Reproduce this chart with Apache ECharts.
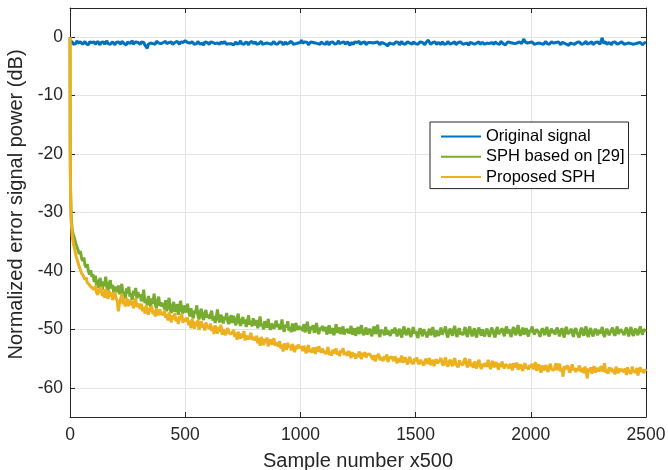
<!DOCTYPE html>
<html>
<head>
<meta charset="utf-8">
<script src="https://cdn.jsdelivr.net/npm/echarts@6/dist/echarts.min.js"></script>
<style>
    html, body { margin: 0; padding: 0; background: #fff; }
    #chart { width: 668px; height: 470px; }
</style>
</head>
<body>
<div id="chart"></div>
<script>
const step = 5;
const headX = [0, 1, 2, 3];
const yTicks = [-60, -50, -40, -30, -20, -10, 0];
const xTicks = [0, 500, 1000, 1500, 2000, 2500];
const seriesNames = ["Original signal", "SPH based on [29]", "Proposed SPH"];
const colors = ["#0072bd", "#77ac30", "#edb120"];

// Original signal, samples 0..2500
const original = [
    -0.7, -1.0, -0.8, -1.2, -0.9, -1.1, -0.6, -1.0, -1.3, -0.8, -1.0, -1.2, -0.9, -0.7, -1.1, -1.0, -1.3, -0.8, -1.0, -0.9,
    -1.1, -0.8, -1.2, -0.9, -0.7, -1.0, -1.3, -0.9, -1.1, -0.8, -1.2, -1.0, -0.6, -1.1, -0.9, -1.2, -1.0, -0.8, -1.1, -1.3,
    -0.9, -1.1, -0.8, -1.0, -1.2, -0.7, -1.0, -1.1, -0.9, -1.3, -0.8, -1.0, -1.1, -0.9, -0.6, -1.2, -1.0, -0.8, -1.1, -0.9,
    -1.0, -1.2, -0.8, -1.1, -0.9, -1.3, -1.1, -1.9, -1.2, -0.9, -1.0, -0.8, -1.1, -0.9, -1.2, -0.7, -0.5, -1.0, -0.9, -1.1,
    -1.2, -0.9, -1.0, -0.7, -1.1, -1.3, -0.9, -1.0, -0.8, -1.2, -1.0, -0.9, -1.1, -0.7, -1.0, -1.2, -0.8, -1.1, -0.9, -1.0,
    -0.6, -0.4, -0.9, -1.1, -1.0, -1.3, -0.8, -1.0, -1.2, -0.9, -1.1, -0.7, -1.0, -1.2, -0.9, -1.0, -1.4, -0.8, -1.1, -0.9,
    -1.0, -1.2, -0.8, -1.1, -0.9, -0.7, -1.1, -1.3, -1.0, -0.9, -1.2, -0.8, -1.0, -1.1, -0.7, -1.0, -1.2, -0.9, -1.1, -0.8,
    -1.1, -0.9, -1.3, -1.0, -0.8, -1.2, -0.9, -1.0, -0.6, -1.1, -0.9, -1.2, -1.0, -0.8, -1.1, -1.3, -0.9, -1.0, -0.7, -1.1,
    -1.0, -0.8, -1.2, -0.9, -1.1, -1.0, -0.7, -1.2, -0.9, -1.1, -1.4, -1.0, -0.8, -1.1, -0.9, -1.2, -1.0, -0.7, -1.1, -0.9,
    -1.2, -1.0, -0.8, -1.1, -0.9, -1.3, -1.0, -0.8, -1.2, -0.9, -1.0, -1.1, -0.7, -1.0, -1.2, -0.9, -1.1, -0.8, -1.0, -1.2,
    -0.9, -0.5, -1.0, -1.2, -0.8, -1.1, -0.9, -1.3, -1.0, -0.8, -1.1, -0.9, -1.2, -1.0, -0.7, -1.1, -0.9, -1.2, -0.8, -1.0,
    -1.1, -0.9, -1.2, -0.7, -1.0, -1.3, -0.9, -1.1, -0.8, -1.0, -1.2, -0.9, -1.0, -0.6, -1.1, -1.3, -0.9, -1.0, -0.8, -1.2,
    -1.0, -0.8, -1.1, -1.4, -0.9, -1.0, -1.2, -0.8, -1.1, -0.9, -1.0, -0.7, -1.2, -1.0, -0.9, -1.1, -0.8, -1.3, -1.0, -0.9,
    -1.1, -0.9, -0.6, -1.0, -1.2, -0.9, -1.1, -0.8, -1.0, -1.3, -0.9, -1.1, -1.0, -0.8, -1.2, -0.9, -1.5, -1.0, -0.8, -1.1,
    -0.9, -1.2, -1.0, -0.8, -1.1, -0.9, -1.3, -1.0, -0.7, -1.1, -0.9, -1.2, -1.0, -0.8, -1.1, -1.0, -0.9, -1.2, -0.8, -1.0,
    -1.1, -0.9, -1.2, -1.0, -0.8, -1.1, -0.9, -1.0, -1.3, -0.9, -1.1, -0.5, -0.8, -1.2, -1.0, -0.9, -1.1, -0.8, -1.2, -1.0,
    -0.9, -1.1, -1.3, -0.8, -1.0, -1.2, -0.9, -1.1, -0.7, -1.0, -1.2, -0.9, -1.0, -1.1, -0.8, -1.3, -1.0, -0.9, -1.1, -0.8,
    -1.0, -1.2, -0.9, -1.1, -0.8, -1.0, -1.4, -0.9, -1.1, -1.0, -0.7, -1.2, -0.9, -1.0, -1.1, -0.8, -1.2, -1.0, -0.9, -1.1,
    -1.2, -0.9, -1.0, -0.8, -1.1, -1.3, -0.9, -1.0, -1.2, -0.8, -1.0, -1.1, -0.9, -1.2, -0.7, -1.0, -1.1, -0.9, -1.3, -1.0,
    -0.8, -1.1, -0.9, -1.2, -1.0, -0.7, -1.1, -0.9, -1.0, -1.2, -0.8, -1.0, -1.1, -0.9, -0.3, -0.8, -1.1, -1.0, -1.2, -0.9,
    -1.1, -0.8, -1.0, -1.2, -0.9, -1.1, -1.3, -1.0, -0.8, -1.1, -0.9, -1.2, -1.0, -0.7, -1.1, -0.9, -1.2, -1.0, -0.8, -1.1,
    -1.0, -1.2, -0.9, -1.1, -0.8, -1.0, -1.3, -0.9, -1.1, -1.0, -0.8, -1.2, -0.9, -1.4, -1.0, -0.8, -1.1, -0.9, -1.2, -1.0,
    -0.9, -1.1, -0.8, -1.0, -1.2, -0.9, -1.1, -1.0, -0.7, -1.2, -0.9, -1.0, -1.1, -0.8, -1.3, -1.0, -0.9, -1.1, -0.8, -1.0,
    -1.2, -0.9, -0.1, -1.0, -1.1, -0.8, -1.2, -1.0, -0.9, -1.1, -1.3, -0.9, -1.0, -0.8, -1.1, -1.2, -0.9, -1.0, -1.1, -0.8,
    -1.0, -1.2, -0.9, -1.1, -1.3, -1.0, -0.8, -1.1, -0.9, -1.2, -1.0, -1.1, -0.8, -1.0, -1.2, -0.9, -1.1, -1.3, -1.0, -0.9,
    -1.0
];

// SPH based on [29], samples 0..3 then 5..2500
const sphHead = [0, -19, -24, -27];
const sph = [
    -30.5, -33.2, -33.0, -34.5, -35.3, -35.0, -36.4, -37.1, -36.6, -37.8, -38.3, -37.7, -39.0, -39.4, -38.8, -40.1, -40.6, -39.9, -41.0, -40.6,
    -41.9, -40.8, -42.4, -41.5, -42.9, -41.2, -42.0, -43.3, -41.8, -42.6, -41.0, -42.8, -43.5, -42.1, -41.6, -43.0, -42.4, -43.8, -42.7, -43.2,
    -43.6, -42.5, -44.0, -43.1, -42.2, -44.3, -43.5, -44.8, -43.0, -43.9, -42.7, -44.4, -43.8, -45.0, -43.4, -44.2, -42.9, -44.7, -43.6, -44.5,
    -44.0, -45.2, -44.6, -43.2, -45.5, -44.8, -45.9, -44.3, -45.1, -46.2, -44.7, -45.6, -43.9, -45.8, -46.3, -45.0, -44.4, -46.0, -45.4, -46.1,
    -45.5, -46.6, -45.0, -46.9, -45.8, -44.6, -46.5, -47.2, -46.0, -45.3, -47.0, -46.4, -45.7, -47.5, -46.2, -45.1, -46.8, -47.3, -45.9, -46.7,
    -47.1, -45.6, -46.9, -47.8, -46.4, -47.5, -48.1, -46.8, -47.3, -45.9, -47.6, -48.3, -47.0, -46.5, -47.9, -48.4, -47.2, -46.7, -48.0, -47.5,
    -48.2, -47.4, -46.8, -48.5, -47.7, -48.9, -47.9, -46.6, -48.3, -48.8, -47.5, -48.1, -49.0, -47.8, -48.4, -47.2, -48.7, -49.1, -48.0, -47.6,
    -48.9, -47.7, -48.5, -49.3, -48.2, -47.3, -48.8, -49.4, -48.5, -47.9, -49.0, -48.3, -49.6, -48.7, -47.6, -49.2, -48.6, -49.5, -48.1, -48.9,
    -49.3, -48.4, -49.8, -48.9, -47.8, -49.5, -49.0, -50.0, -48.6, -49.3, -49.7, -48.2, -49.4, -50.1, -49.0, -48.7, -49.9, -49.2, -48.5, -49.6,
    -49.1, -50.0, -49.5, -48.3, -49.8, -50.4, -49.2, -49.7, -48.6, -50.2, -49.6, -50.5, -49.0, -49.9, -50.3, -48.9, -49.7, -50.1, -49.4, -50.0,
    -49.6, -50.3, -49.1, -50.5, -49.8, -48.7, -50.2, -50.7, -49.5, -50.0, -49.3, -50.6, -49.9, -48.9, -50.4, -50.8, -49.7, -50.1, -49.4, -50.3,
    -50.5, -49.6, -50.9, -50.0, -49.3, -50.7, -50.2, -49.8, -51.0, -50.4, -49.1, -50.6, -50.1, -49.7, -50.8, -50.3, -49.5, -50.9, -50.0, -50.5,
    -49.9, -50.7, -50.2, -49.4, -50.9, -50.5, -49.8, -51.1, -50.3, -49.6, -50.8, -50.0, -49.3, -50.6, -51.0, -50.2, -49.7, -50.9, -50.4, -49.9,
    -50.6, -51.2, -50.0, -49.5, -50.8, -50.3, -49.2, -50.7, -51.3, -50.1, -49.8, -50.5, -51.0, -49.6, -50.9, -50.2, -49.9, -51.1, -50.4, -50.0,
    -50.7, -49.7, -50.3, -51.2, -50.5, -49.9, -50.8, -51.4, -50.1, -49.5, -50.6, -51.0, -50.2, -49.8, -50.9, -51.3, -50.4, -49.6, -50.7, -50.3,
    -50.9, -51.5, -50.3, -49.8, -50.6, -51.2, -50.0, -49.7, -50.8, -51.4, -50.5, -49.9, -51.0, -50.4, -49.6, -50.9, -51.3, -50.2, -50.7, -51.1,
    -50.4, -49.7, -50.9, -51.2, -50.1, -49.5, -50.8, -51.4, -50.3, -49.9, -50.6, -51.1, -50.0, -49.4, -50.7, -51.3, -50.2, -49.8, -50.9, -50.5,
    -51.0, -50.3, -49.6, -50.8, -51.3, -50.1, -49.5, -50.6, -51.2, -50.4, -49.8, -50.9, -51.4, -50.2, -49.7, -50.5, -51.1, -50.0, -50.7, -51.2,
    -50.3, -49.9, -50.6, -51.3, -50.5, -49.7, -50.2, -50.9, -51.4, -50.1, -49.6, -50.8, -51.0, -50.3, -49.8, -50.5, -51.2, -50.0, -49.5, -50.7,
    -50.0, -50.8, -51.3, -50.2, -49.6, -50.5, -51.0, -49.9, -49.3, -50.6, -51.1, -50.3, -49.7, -50.9, -50.4, -49.8, -50.7, -51.2, -50.1, -50.5,
    -49.5, -50.2, -50.9, -51.1, -50.0, -49.7, -50.6, -51.3, -50.4, -49.8, -50.3, -51.0, -50.1, -49.6, -50.8, -51.2, -50.3, -49.9, -50.6, -50.2,
    -50.9, -50.1, -49.7, -50.5, -51.2, -50.3, -49.8, -50.7, -51.4, -50.0, -49.6, -50.8, -51.1, -50.4, -49.9, -50.6, -51.3, -50.2, -49.8, -50.5,
    -50.8, -51.4, -50.3, -49.7, -50.6, -51.1, -50.0, -49.5, -50.9, -51.3, -50.2, -49.8, -50.7, -51.2, -50.4, -49.9, -50.5, -51.0, -50.1, -50.7,
    -50.3, -49.6, -50.8, -51.3, -50.5, -49.9, -50.2, -51.0, -51.2, -50.1, -49.7, -50.6, -51.1, -50.3, -49.5, -50.8, -50.9, -50.0, -49.8, -50.6,
    -51.0, -50.2, -49.7, -50.5, -51.2, -50.1, -49.6, -50.7, -51.1, -50.3, -49.9, -50.6, -51.0, -50.2, -49.5, -50.4, -50.9, -50.0, -49.7, -50.3
];

// Proposed SPH, samples 0..3 then 5..2500
const proposedHead = [0, -20, -25, -28];
const proposed = [
    -31.5, -34.2, -35.4, -36.2, -37.3, -37.9, -38.6, -39.3, -39.6, -40.4, -40.2, -41.0, -41.5, -41.1, -42.0, -41.7, -42.4, -42.1, -42.9, -42.6,
    -43.2, -42.5, -43.7, -44.1, -43.0, -43.8, -42.7, -44.3, -43.5, -44.6, -43.1, -44.0, -44.8, -43.4, -44.4, -43.7, -45.0, -44.2, -43.6, -44.7,
    -45.1, -46.9, -45.5, -44.8, -43.9, -45.7, -45.0, -46.1, -44.6, -45.4, -46.0, -44.9, -45.8, -45.2, -46.4, -45.5, -44.7, -46.2, -45.6, -46.0,
    -46.5, -45.6, -46.9, -46.2, -47.3, -45.9, -46.7, -47.5, -46.3, -47.0, -46.0, -47.4, -46.8, -47.8, -46.4, -47.1, -47.6, -46.6, -47.3, -47.0,
    -47.5, -46.8, -48.0, -47.4, -48.5, -47.1, -47.9, -48.8, -47.6, -48.3, -47.2, -48.6, -48.0, -49.1, -47.7, -48.4, -47.3, -48.9, -48.1, -48.6,
    -48.9, -48.0, -49.3, -48.5, -49.8, -48.2, -49.0, -49.9, -48.7, -49.4, -48.4, -50.1, -49.2, -48.6, -49.7, -49.1, -50.2, -48.8, -49.5, -49.6,
    -49.9, -49.0, -50.3, -49.5, -50.8, -49.3, -50.1, -50.7, -49.6, -50.4, -49.2, -50.9, -50.0, -49.7, -51.0, -50.2, -49.8, -50.6, -50.3, -50.8,
    -50.9, -50.1, -51.3, -50.6, -51.8, -50.4, -51.0, -51.6, -50.7, -51.4, -50.3, -51.9, -51.1, -50.8, -51.7, -51.2, -50.6, -51.8, -51.3, -51.5,
    -51.9, -51.1, -52.4, -51.5, -52.8, -51.3, -52.0, -52.7, -51.6, -52.3, -51.4, -52.9, -52.1, -51.7, -52.6, -52.2, -51.5, -52.8, -52.3, -52.5,
    -52.9, -52.0, -53.3, -52.6, -53.8, -52.4, -53.0, -53.5, -52.3, -53.1, -52.7, -53.6, -52.5, -53.2, -53.9, -52.8, -53.4, -52.6, -53.1, -53.3,
    -53.0, -53.7, -52.8, -53.5, -54.1, -53.2, -52.7, -53.9, -53.4, -54.0, -53.1, -53.6, -54.2, -53.0, -53.8, -52.9, -53.5, -54.0, -53.3, -53.7,
    -53.4, -54.2, -53.7, -53.0, -54.4, -53.8, -54.5, -53.5, -54.1, -53.9, -53.3, -54.3, -53.8, -54.6, -53.6, -54.0, -53.2, -54.4, -53.9, -54.1,
    -54.5, -53.7, -54.2, -54.9, -53.9, -54.6, -54.1, -55.0, -54.3, -54.7, -53.8, -54.4, -55.1, -54.0, -54.6, -53.9, -54.8, -54.3, -54.5, -54.2,
    -53.9, -54.8, -55.2, -54.4, -55.5, -54.7, -55.0, -54.2, -55.3, -54.8, -54.5, -55.4, -54.6, -55.1, -54.3, -55.6, -54.9, -55.2, -54.7, -55.0,
    -55.4, -54.6, -55.2, -55.8, -54.9, -55.6, -55.1, -54.5, -55.7, -55.3, -54.8, -55.5, -56.0, -55.2, -54.7, -55.6, -55.3, -55.9, -55.0, -55.4,
    -54.8, -55.6, -56.0, -55.2, -54.9, -55.8, -56.2, -55.4, -55.0, -55.9, -55.5, -54.9, -56.1, -55.7, -55.2, -56.3, -55.6, -55.1, -55.8, -55.5,
    -55.3, -54.9, -55.8, -56.2, -55.5, -54.8, -55.9, -56.4, -55.6, -55.2, -55.9, -56.3, -55.4, -54.9, -56.0, -55.7, -56.5, -55.3, -55.8, -56.1,
    -56.1, -55.4, -54.9, -55.9, -56.5, -55.6, -55.1, -56.3, -55.8, -56.6, -55.5, -56.0, -56.7, -55.7, -55.2, -56.2, -56.8, -55.9, -56.4, -55.8,
    -55.7, -56.4, -55.2, -56.0, -56.8, -55.9, -55.4, -56.5, -56.1, -55.6, -56.3, -56.9, -55.8, -56.4, -55.5, -56.2, -56.7, -56.0, -55.7, -56.3,
    -56.7, -55.9, -56.3, -57.0, -55.8, -56.5, -56.2, -55.7, -56.9, -56.4, -56.0, -56.6, -57.1, -56.2, -55.8, -56.7, -56.3, -56.9, -56.1, -56.5,
    -55.9, -56.8, -56.3, -55.6, -57.1, -56.5, -56.0, -56.9, -57.4, -56.2, -56.6, -57.0, -56.1, -56.7, -57.3, -56.4, -55.9, -56.8, -56.5, -57.0,
    -56.7, -55.8, -57.0, -56.4, -55.9, -57.2, -56.6, -58.1, -56.3, -56.8, -57.1, -56.2, -56.9, -57.4, -56.5, -56.0, -57.0, -56.6, -57.3, -56.7,
    -57.1, -56.2, -55.9, -57.3, -56.6, -57.5, -56.4, -56.9, -58.4, -56.7, -57.2, -56.5, -57.6, -56.8, -56.3, -57.4, -57.0, -56.6, -57.2, -56.9,
    -56.3, -57.2, -56.8, -55.8, -57.4, -56.9, -57.6, -56.5, -57.1, -56.6, -57.3, -56.9, -57.7, -56.4, -57.0, -57.5, -56.7, -57.2, -56.8, -57.1,
    -57.3, -56.7, -57.8, -56.5, -57.2, -56.9, -57.6, -56.4, -57.1, -56.8, -57.4, -56.6, -57.9, -57.0, -56.5, -57.3, -56.8, -57.5, -56.9, -57.2
];

function toPairs(head, values) {
    let out = head.map((v, i) => [headX[i], v]);
    values.forEach((v, i) => out.push([(i + 1) * step, v]));
    return out;
}

const font = "'Liberation Sans', Arial, Helvetica, sans-serif";
const axisColor = "#262626";
const gridColor = "#e3e3e3";
const lineWidth = 3;

let chart = echarts.init(document.getElementById("chart"), null, { renderer: "canvas" });

const tickStyle = { show: true, inside: true, length: 5, lineStyle: { color: axisColor, width: 1 } };

let option = {
    animation: false,
    backgroundColor: "#fff",
    color: colors,
    grid: { left: 70, right: 22, top: 8, bottom: 53, containLabel: false, outerBoundsMode: "none" },
    legend: {
        orient: "vertical",
        left: 430,
        top: 122,
        data: seriesNames,
        itemWidth: 40,
        itemHeight: 14,
        itemGap: 3.3,
        padding: [6, 4, 3, 10],
        backgroundColor: "#fff",
        borderColor: axisColor,
        borderWidth: 1,
        borderRadius: 0,
        lineStyle: { width: 2 },
        itemStyle: { opacity: 0 },
        textStyle: { fontFamily: font, fontSize: 16.5, color: "#000" },
    },
    xAxis: [
        {
            type: "value",
            min: 0,
            max: 2500,
            interval: 500,
            name: "Sample number x500",
            nameLocation: "middle",
            nameGap: 34,
            nameTextStyle: { fontFamily: font, fontSize: 20, color: axisColor },
            axisLine: { onZero: false, lineStyle: { color: axisColor, width: 1 } },
            axisTick: tickStyle,
            axisLabel: {
                customValues: xTicks,
                formatter: (v) => String(v),
                fontFamily: font,
                fontSize: 17.5,
                color: axisColor,
                margin: 9,
            },
            splitLine: { show: true, lineStyle: { color: gridColor, width: 1 } },
        },
        {
            type: "value",
            position: "top",
            min: 0,
            max: 2500,
            interval: 500,
            axisLine: { onZero: false, lineStyle: { color: axisColor, width: 1 } },
            axisTick: tickStyle,
            axisLabel: { show: false },
            splitLine: { show: false },
        },
    ],
    yAxis: [
        {
            type: "value",
            min: -65,
            max: 5,
            name: "Normalized error signal power (dB)",
            nameLocation: "middle",
            nameGap: 38,
            nameTextStyle: { fontFamily: font, fontSize: 20, color: axisColor, padding: [0, 0, 0, 16] },
            axisLine: { show: true, onZero: false, lineStyle: { color: axisColor, width: 1 } },
            axisTick: Object.assign({ customValues: yTicks }, tickStyle),
            axisLabel: { customValues: yTicks, fontFamily: font, fontSize: 17.5, color: axisColor, margin: 7 },
            splitLine: { show: true, lineStyle: { color: gridColor, width: 1 } },
        },
        {
            type: "value",
            position: "right",
            min: -65,
            max: 5,
            axisLine: { show: true, onZero: false, lineStyle: { color: axisColor, width: 1 } },
            axisTick: Object.assign({ customValues: yTicks }, tickStyle),
            axisLabel: { show: false },
            splitLine: { show: false },
        },
    ],
    series: [
        {
            name: seriesNames[0],
            type: "line",
            symbol: "none",
            data: original.map((v, i) => [i * step, v]),
            lineStyle: { width: lineWidth, color: colors[0] },
        },
        {
            name: seriesNames[1],
            type: "line",
            symbol: "none",
            data: toPairs(sphHead, sph),
            lineStyle: { width: lineWidth, color: colors[1] },
        },
        {
            name: seriesNames[2],
            type: "line",
            symbol: "none",
            data: toPairs(proposedHead, proposed),
            lineStyle: { width: lineWidth, color: colors[2] },
        },
    ],
};

chart.setOption(option);
</script>
</body>
</html>
